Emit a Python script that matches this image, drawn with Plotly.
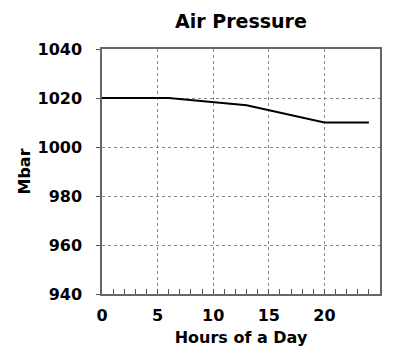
import plotly.graph_objects as go

hours = [0, 6, 13, 20, 24]
pressure = [1020, 1020, 1017, 1010, 1010]
x_ticks = [0, 5, 10, 15, 20]
y_ticks = [940, 960, 980, 1000, 1020, 1040]

fig = go.Figure()
fig.add_trace(go.Scatter(x=hours, y=pressure, mode="lines",
                         line=dict(color="black", width=2), showlegend=False))

font = "DejaVu Sans, Verdana, sans-serif"
fig.update_layout(
    width=409, height=354,
    margin=dict(l=102, r=29, t=49, b=60),
    paper_bgcolor="white", plot_bgcolor="white",
    title=dict(text="<b>Air Pressure</b>", x=0.5, xanchor="center", xref="paper",
               y=1 - 21 / 354, yanchor="middle",
               font=dict(family=font, size=19, color="black")),
    font=dict(family=font, color="black"),
)
fig.update_xaxes(
    range=[0, 25], tickmode="array", tickvals=x_ticks,
    ticktext=[f"<b>{v}</b>" for v in x_ticks],
    tickfont=dict(size=16, family=font, color="black"),
    ticks="inside", ticklen=5, tickcolor="#555",
    ticklabelstandoff=6, automargin=False,
    minor=dict(dtick=1, tick0=0, ticks="inside", ticklen=5, tickcolor="#555", showgrid=False),
    showgrid=True, gridcolor="#888", griddash="dot", gridwidth=1,
    showline=True, linecolor="#666", linewidth=1.5, mirror=True,
    zeroline=False,
    title=dict(text="<b>Hours of a Day</b>", font=dict(size=16, family=font, color="black"), standoff=8),
)
fig.update_yaxes(
    range=[940, 1040], tickmode="array", tickvals=y_ticks,
    ticktext=[f"<b>{v}</b>" for v in y_ticks],
    tickfont=dict(size=16, family=font, color="black"),
    ticks="outside", ticklen=4, tickcolor="#555",
    ticklabelstandoff=11, automargin=False,
    showgrid=True, gridcolor="#888", griddash="dot", gridwidth=1,
    showline=True, linecolor="#666", linewidth=1.5, mirror=True,
    zeroline=False,
    title=dict(text="<b>Mbar</b>", font=dict(size=16, family=font, color="black"), standoff=3),
)
fig.write_html("out.html")
